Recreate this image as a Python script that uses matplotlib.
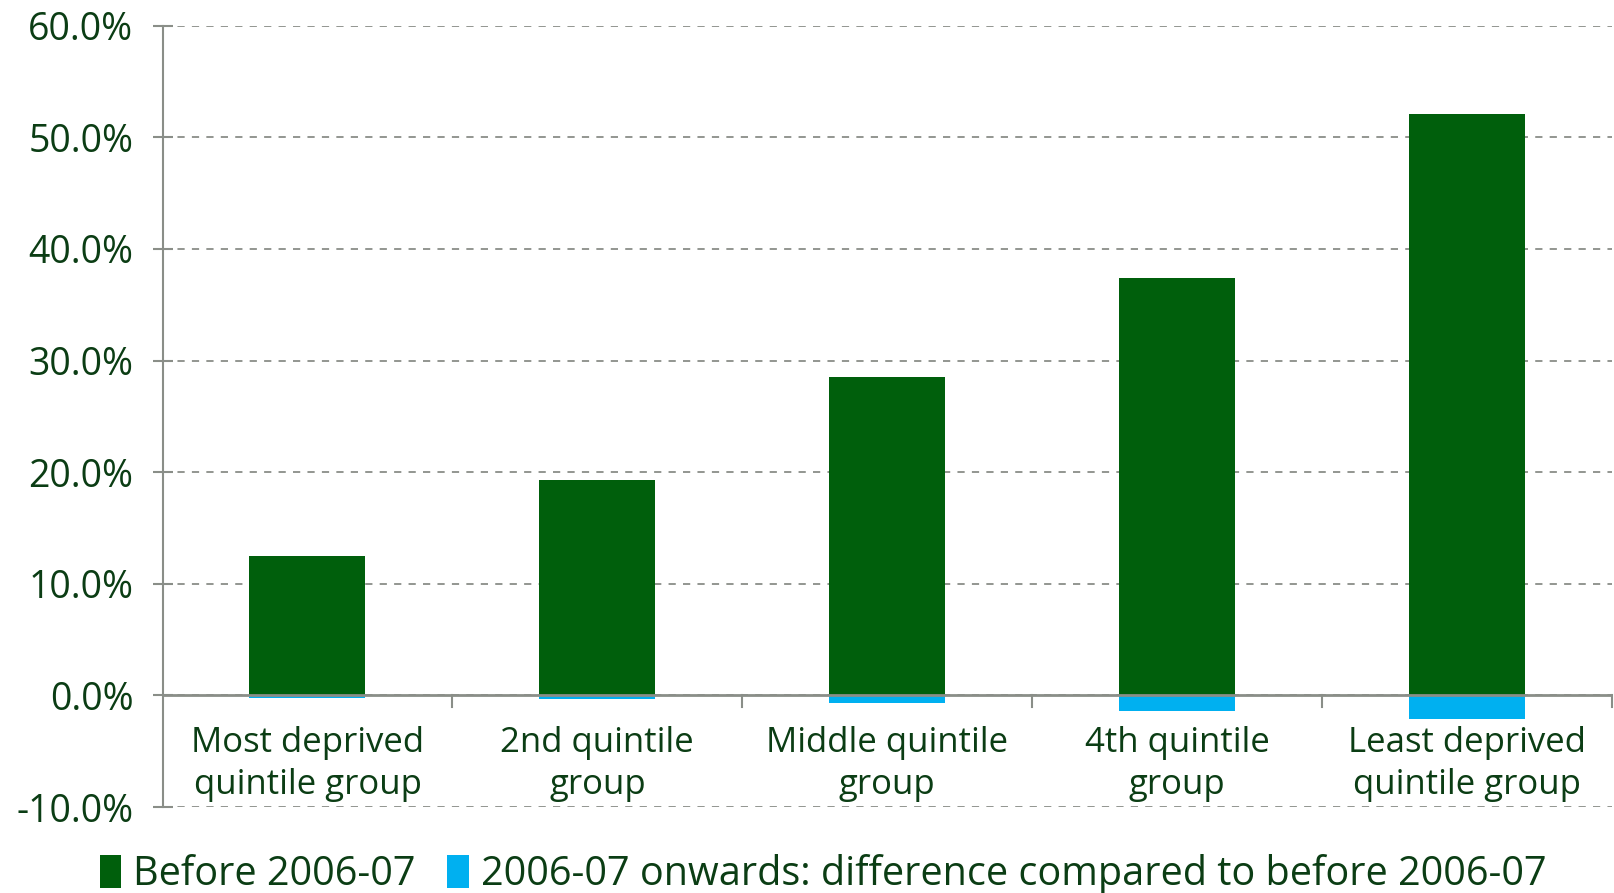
import matplotlib
matplotlib.use("Agg")
import matplotlib.pyplot as plt
from matplotlib.ticker import FuncFormatter, MultipleLocator

categories = ["Most deprived\nquintile group", "2nd quintile\ngroup",
              "Middle quintile\ngroup", "4th quintile\ngroup",
              "Least deprived\nquintile group"]
before = [12.5, 19.3, 28.5, 37.4, 52.1]
difference = [-0.2, -0.3, -0.7, -1.4, -2.1]
series_names = ["Before 2006-07",
                "2006-07 onwards: difference compared to before 2006-07"]

GREEN = "#005f0c"
BLUE = "#00b0f0"
TEXT = "#0b3d14"
GRID = "#8a8e88"

plt.rcParams["font.family"] = ["Open Sans", "DejaVu Sans"]

fig = plt.figure(figsize=(16.14, 8.93), dpi=100)
ax = fig.add_axes([0.1007, 0.0963, 0.898, 0.875])

x = range(len(categories))
ax.bar(x, before, width=0.4, color=GREEN, label=series_names[0], zorder=3)
ax.bar(x, difference, width=0.4, color=BLUE, label=series_names[1], zorder=3)

ax.set_xlim(-0.5, len(categories) - 0.5)
ax.set_ylim(-10, 60)
ax.yaxis.set_major_locator(MultipleLocator(10))
ax.yaxis.set_major_formatter(FuncFormatter(lambda v, p: f"{v:.1f}%"))
ax.grid(axis="y", linestyle=(0, (4, 4)), color=GRID, linewidth=1.3, zorder=0)

for s in ["top", "right", "bottom"]:
    ax.spines[s].set_visible(False)
ax.spines["left"].set_color(GRID)
ax.spines["left"].set_linewidth(1.5)
ax.axhline(0, color=GRID, linewidth=2, zorder=4)

# category separators hanging below the zero line
for b in [i + 0.5 for i in range(len(categories))]:
    ax.plot([b, b], [0, -1.0], color=GRID, linewidth=1.5, zorder=4, clip_on=False)

# category labels sit just below the zero line
ax.set_xticks([])
for i, c in enumerate(categories):
    ax.text(i, -2.75, c, ha="center", va="top", fontsize=25, color=TEXT,
            linespacing=1.3)

ax.tick_params(axis="y", labelsize=27, labelcolor=TEXT, color=GRID,
               direction="inout", length=14, width=1.5, pad=14)

fig.legend(loc="lower center", bbox_to_anchor=(0.51, -0.042), ncol=2,
           frameon=False, fontsize=28.5, handlelength=0.55,
           handleheight=0.9, handletextpad=0.3, columnspacing=0.8,
           labelcolor=TEXT)

fig.savefig("out.png", dpi=100, facecolor="white")
